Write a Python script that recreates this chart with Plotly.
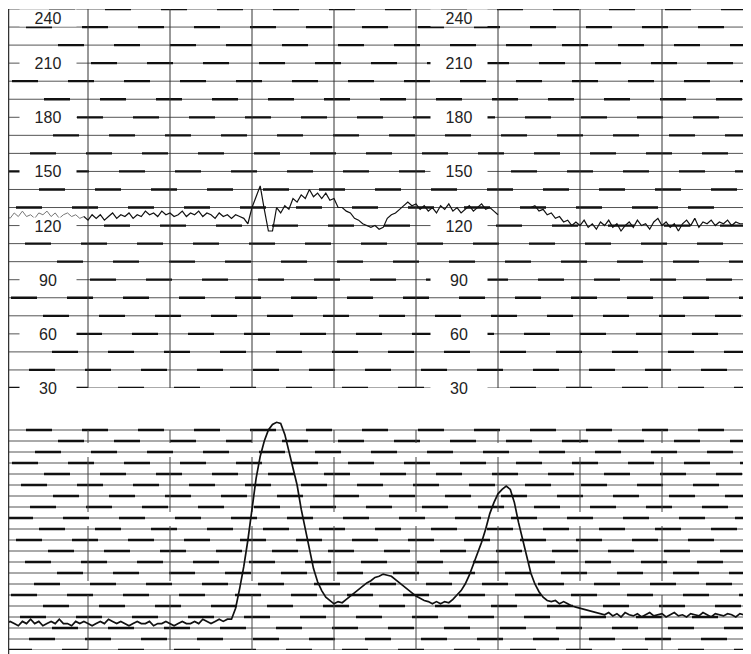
import plotly.graph_objects as go

# CTG strip: fetal heart rate (top) and uterine activity (bottom)
# one sample every 3 s (0.05 min), 9 minutes of paper
sample_step = 0.05
minute_lines = [0, 1, 2, 3, 4, 5, 6, 7, 8, 9]
fhr_ticks = [240, 210, 180, 150, 120, 90, 60, 30]
fhr_grid = list(range(30, 250, 10))
toco_grid = list(range(0, 105, 5))

fhr_bpm = [
    # poor signal at the start
    126, 124, 127, 125, 128, 125, 126, 124, 127, 126, 128, 125, 127, 124, 126, 127, 125, 126, 124,
    # baseline
    125, 123, 126, 124, 126, 123, 125, 127, 124, 126, 125, 127, 124, 126, 125, 128, 126, 127, 125, 128,
    126, 127, 125, 126, 128, 125, 127, 126, 128, 125, 127, 126, 124, 127, 125, 126, 124, 126, 125,
    # spike, artefact, small acceleration, shallow dip
    124, 121, 130, 136, 142, 129, 117, 117, 130, 127, 131, 129, 135, 133, 137, 135, 140, 136, 138, 135,
    138, 134, 135, 130, 130, 128, 127, 124, 123, 121, 120, 119, 120, 118, 119, 124, 126, 127, 129, 131,
    133, 131, 132,
    129, 131, 128, 130, 127, 131, 129, 132, 128, 130, 127, 129, 131, 128, 130, 132, 129, 130, 128, 126,
    # signal loss
    None, None, None, None, None, None, None,
    130, 131, 128, 129, 126, 127, 124, 125, 122, 123, 120,
    122, 120, 123, 119, 121, 118, 122, 120, 123, 119, 121, 117, 120, 122, 119, 123, 120, 121, 118, 122,
    124, 120, 122, 119, 121, 117, 121, 123, 120, 124, 119, 122, 121, 123, 120, 122, 121, 123, 120, 122,
    121, 121,
]

toco = [
    12, 13, 12, 11, 13, 12, 14, 12, 13, 11, 12, 13, 12, 14, 12, 12, 11, 13, 12, 13,
    12, 11, 12, 13, 12, 14, 13, 12, 13, 12, 11, 12, 13, 12, 12, 13, 11, 12, 12, 13,
    12, 11, 12, 13, 12, 12, 13, 12, 14, 13, 12, 13, 14, 13, 14,
    # first contraction
    14, 19, 28, 38, 50, 64, 78, 88, 95, 100, 102.5, 103.5, 103, 98, 90, 82, 75, 64, 55, 46,
    37, 31, 27, 24, 22.5, 21, 22, 21.5, 23, 24.5,
    # small contraction
    26, 27.5, 29, 30.5, 31.5, 33, 33.5, 34.5, 34, 33.5, 32, 30.5, 29, 27.5, 26, 24.5, 23.5, 22.5, 22, 21,
    22, 21, 22, 21.5, 23, 25, 27, 30, 34, 39,
    # second contraction
    44, 49, 55, 62, 67, 71, 73, 74.5, 73, 67, 58, 50, 42, 35, 30, 26.5, 24, 22.5, 22, 22.5,
    21, 22, 21, 20, 19.5, 19, 18.5, 18, 17.5, 17, 16.5,
    16, 17, 15.5, 16.5, 15, 17, 16, 15.5, 16.5, 15, 16, 17, 15.5, 16, 16.5, 15, 16, 17, 15.5, 16,
    15, 16.5, 16, 15.5, 17, 16, 15, 16.5, 16, 15.5, 16.5, 16, 15, 16.5, 16,
]

t_fhr = [i * sample_step for i in range(len(fhr_bpm))]
t_toco = [i * sample_step for i in range(len(toco))]

# the page body adds an 8px margin, so the figure is 8px smaller than the window
W, H = 743, 646

fig = go.Figure()
fig.add_trace(go.Scatter(x=t_fhr[:20], y=fhr_bpm[:20], mode="lines",
                         line=dict(color="#777", width=1),
                         xaxis="x", yaxis="y", hoverinfo="skip"))
fig.add_trace(go.Scatter(x=t_fhr[19:], y=fhr_bpm[19:], mode="lines",
                         line=dict(color="#111", width=1.2), connectgaps=False,
                         xaxis="x", yaxis="y"))
fig.add_trace(go.Scatter(x=t_toco, y=toco, mode="lines",
                         line=dict(color="#111", width=1.7),
                         xaxis="x2", yaxis="y2"))


def paper_grid(xref, yref, levels):
    for k, lv in enumerate(levels):
        fig.add_shape(type="line", xref=xref, yref=yref, x0=0, x1=9, y0=lv, y1=lv,
                      line=dict(color="#555", width=1), layer="below")
        off = ((k * 23) % 55) / 82
        fig.add_shape(type="line", xref=xref, yref=yref, x0=off, x1=9, y0=lv, y1=lv,
                      line=dict(color="#111", width=2.3, dash="26px,30px"), layer="below")


paper_grid("x", "y", fhr_grid)
paper_grid("x2", "y2", toco_grid)

for m in minute_lines[1:]:
    fig.add_shape(type="line", xref="x", yref="y", x0=m, x1=m, y0=30, y1=240,
                  line=dict(color="#333", width=1), layer="below")
for m in minute_lines[1:-1]:
    fig.add_shape(type="line", xref="x2", yref="y2", x0=m, x1=m, y0=0, y1=100,
                  line=dict(color="#444", width=1, dash="55px,14px"), layer="below")

# left edge of the paper runs through both panels
fig.add_shape(type="line", xref="paper", yref="paper", x0=0.5 / W, x1=0.5 / W,
              y0=0, y1=1 - 1 / H, line=dict(color="#333", width=1.5))

for v in fhr_ticks:
    for xm in (0.512, 5.524):
        fig.add_annotation(x=xm, y=v, xref="x", yref="y", text=str(v), showarrow=False,
                           bgcolor="white", width=54, height=14,
                           yshift=-9 if v == 240 else 0,
                           font=dict(family="Liberation Sans, Arial", size=16, color="#222"))

axis_off = dict(visible=False, showgrid=False, zeroline=False, fixedrange=True)
fig.update_layout(
    width=W, height=H,
    margin=dict(l=0, r=0, t=0, b=0),
    paper_bgcolor="white", plot_bgcolor="white",
    showlegend=False,
    xaxis=dict(domain=[0, 736 / W], range=[2 / 82, 9], **axis_off),
    yaxis=dict(domain=[1 - 380 / H, 1 - 1 / H], range=[30, 240], **axis_off),
    xaxis2=dict(domain=[0, 736 / W], range=[2 / 82, 9], anchor="y2", **axis_off),
    yaxis2=dict(domain=[1 - 642 / H, 1 - 400 / H], range=[0, 110], anchor="x2", **axis_off),
)

fig.write_html("out.html")
